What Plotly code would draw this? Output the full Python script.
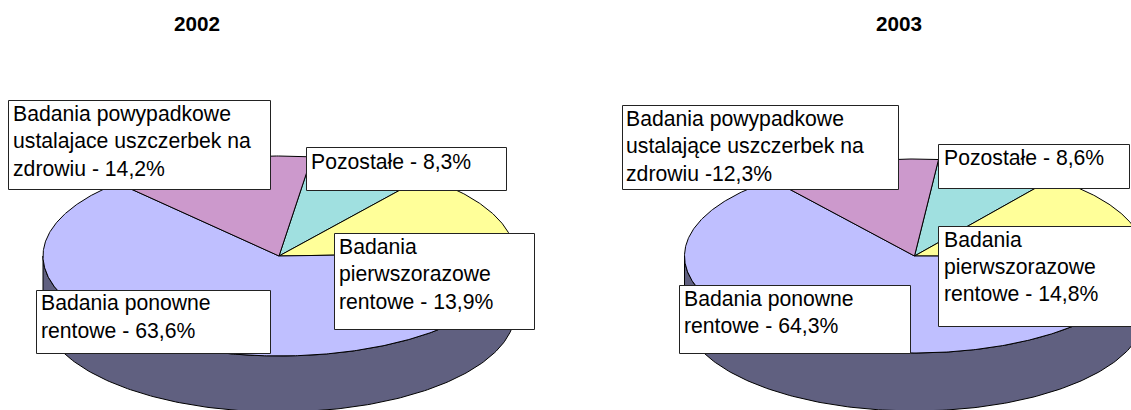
import numpy as np
import plotly.graph_objects as go

# ---- data ----
years = ["2002", "2003"]
categories = ["Pozostałe", "Badania pierwszorazowe rentowe", "Badania ponowne rentowe",
              "Badania powypadkowe ustalające uszczerbek na zdrowiu"]
values_2002 = [8.3, 13.9, 63.6, 14.2]
values_2003 = [8.6, 14.8, 64.3, 12.3]
colors = ["#A0E0E0", "#FFFF99", "#BFBFFF", "#CC99CC"]
side_color = "#606080"

labels_2002 = [["Pozostałe - 8,3%"],
               ["Badania", "pierwszorazowe", "rentowe - 13,9%"],
               ["Badania ponowne", "rentowe - 63,6%"],
               ["Badania powypadkowe", "ustalajace uszczerbek na", "zdrowiu - 14,2%"]]
labels_2003 = [["Pozostałe - 8,6%"],
               ["Badania", "pierwszorazowe", "rentowe - 14,8%"],
               ["Badania ponowne", "rentowe - 64,3%"],
               ["Badania powypadkowe", "ustalające uszczerbek na", "zdrowiu -12,3%"]]

# ---- layout (pixel frame of the page) ----
W, H = 1131, 410
FONT = "Liberation Sans, Arial, sans-serif"
TEXT_SIZE = 21.2
TITLE_SIZE = 20.7
pies = [
    dict(title=years[0], tx=197, values=values_2002, labels=labels_2002,
         cx=279, cy=256, rx=236, ry=100, depth=56, start=8,
         boxes=[(306, 147, 506, 190, 310, [161]),
                (334, 233, 534, 329, 338, [246.7, 274.4, 301]),
                (36, 290, 270, 353, 40, [303.4, 330.4]),
                (8, 100, 270, 189, 12, [113.5, 140.5, 168])]),
    dict(title=years[1], tx=899, values=values_2003, labels=labels_2003,
         cx=914.5, cy=256, rx=230, ry=97, depth=58, start=6,
         boxes=[(938, 144, 1129, 188, 942.5, [157.7]),
                (938, 226, 1134, 326, 942.5, [239.4, 266.7, 293.4]),
                (679, 285, 910, 353, 683, [298.7, 325.4]),
                (622, 105, 898, 189, 625, [119, 146, 173])]),
]

fig = go.Figure()
shapes, annotations = [], []

def ell(p, t):
    r = np.radians(t)
    return p["cx"] + p["rx"] * np.sin(r), p["cy"] - p["ry"] * np.cos(r)

for p in pies:
    # side wall: front half of the rim, lowered by the depth
    t = np.linspace(90, 270, 181)
    x, y = ell(p, t)
    fig.add_trace(go.Scatter(
        x=np.r_[x, x[::-1], x[0]], y=np.r_[y, y[::-1] + p["depth"], y[0]],
        mode="lines", fill="toself", fillcolor=side_color,
        line=dict(color="black", width=1), hoverinfo="skip", showlegend=False))
    # top surface
    a = p["start"]
    for name, v, c in zip(categories, p["values"], colors):
        sweep = v * 3.6
        t = np.linspace(a, a + sweep, max(int(sweep) * 2, 8))
        x, y = ell(p, t)
        fig.add_trace(go.Scatter(
            x=np.r_[p["cx"], x, p["cx"]], y=np.r_[p["cy"], y, p["cy"]],
            mode="lines", fill="toself", fillcolor=c, name=name,
            line=dict(color="black", width=1), showlegend=False))
        a += sweep
    # title
    annotations.append(dict(x=p["tx"], y=23, text=f"<b>{p['title']}</b>", showarrow=False,
                            xanchor="center", yanchor="middle",
                            font=dict(family=FONT, size=TITLE_SIZE, color="black")))
    # label boxes
    for (x0, y0, x1, y1, tx, lys), lines in zip(p["boxes"], p["labels"]):
        shapes.append(dict(type="rect", x0=x0 + .5, y0=y0 + .5, x1=x1 + .5, y1=y1 + .5,
                           xref="x", yref="y", fillcolor="white",
                           line=dict(color="#222222", width=1), layer="above"))
        for ly, line in zip(lys, lines):
            annotations.append(dict(x=tx, y=ly, text=line, showarrow=False,
                                    xanchor="left", yanchor="middle", borderpad=0,
                                    font=dict(family=FONT, size=TEXT_SIZE, color="black")))

fig.update_layout(
    width=W, height=H, margin=dict(l=0, r=0, t=0, b=0),
    paper_bgcolor="white", plot_bgcolor="white", showlegend=False,
    xaxis=dict(range=[0, W], visible=False, fixedrange=True),
    yaxis=dict(range=[H, 0], visible=False, fixedrange=True),
    shapes=shapes, annotations=annotations,
)
fig.write_html("out.html", config=dict(displayModeBar=False),
               post_script="document.body.style.margin='0';document.documentElement.style.overflow='hidden';")
